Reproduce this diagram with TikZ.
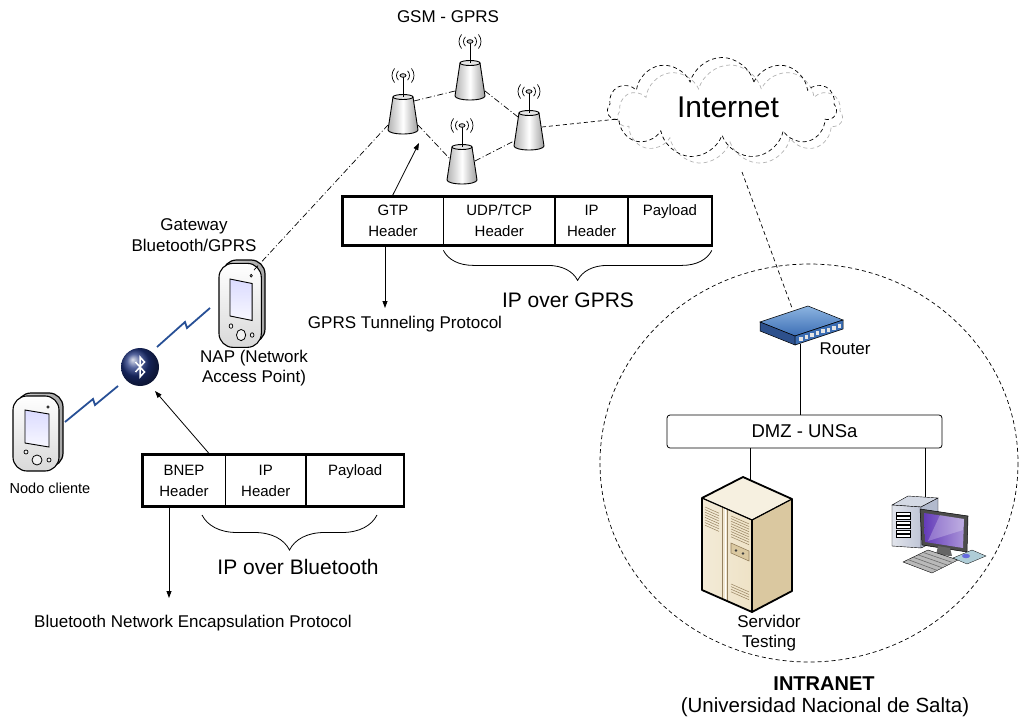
\documentclass[tikz,border=0pt]{standalone}
\usepackage{fontspec}
\setmainfont{Liberation Sans}
\usetikzlibrary{arrows.meta,decorations.pathreplacing,shapes.symbols}

\definecolor{btblue}{RGB}{30,50,125}
\definecolor{boltblue}{RGB}{40,80,150}
\definecolor{srvfront}{RGB}{238,226,198}
\definecolor{srvside}{RGB}{218,200,160}
\definecolor{srvtopc}{RGB}{246,240,224}
\definecolor{srvline}{RGB}{150,130,95}
\definecolor{pcgray}{RGB}{170,178,200}
\definecolor{pcviolet}{RGB}{100,60,185}
\definecolor{pcpad}{RGB}{175,205,215}
\definecolor{rtrlight}{RGB}{140,180,225}
\definecolor{rtrmid}{RGB}{60,110,180}
\definecolor{rtrdark}{RGB}{45,80,140}

\tikzset{
  txt/.style={font=\fontsize{17}{20.5}\selectfont, align=center, inner sep=0pt},
  bigtxt/.style={font=\fontsize{21}{25}\selectfont, inner sep=0pt},
  cell/.style={draw, line width=0.8pt, minimum height=48pt, inner sep=0pt, align=center,
    font=\fontsize{15}{21}\selectfont},
  pktframe/.style={line width=2.6pt},
  arr/.style={-{Triangle[length=7pt,width=5pt]}, line width=0.8pt},
  gsmlink/.style={dash pattern=on 6pt off 2.5pt on 1pt off 2.5pt, line width=0.7pt},
  netlink/.style={dash pattern=on 4pt off 3pt, line width=0.7pt},
  lanlink/.style={line width=0.8pt},
  bolt/.style={draw=boltblue, line width=1.8pt, line join=miter},
  pbrace/.style={decorate, decoration={brace, mirror, amplitude=#1}, line width=0.8pt},
  srvvent/.style={draw=srvline, line width=0.5pt},
  % GSM base station
  bts/.pic={
    \draw[line width=0.9pt, left color=gray!60, right color=gray!75, middle color=white]
      (-10,0) -- (-15,33) arc[start angle=180, end angle=0, x radius=15, y radius=4] -- (10,0) -- cycle;
    \draw[line width=0.9pt, fill=gray!20] (0,0) ellipse[x radius=10, y radius=2.5];
    \draw[line width=0.9pt] (0,0) -- (0,-20);
    \draw[line width=0.8pt, fill=gray!40] (0,-21.5) ellipse[x radius=3, y radius=1.8];
    \foreach \r/\a in {6.5/45,11/40} {
      \draw[line width=0.7pt] ([shift={(180-\a:\r)}]0,-21.5) arc[start angle=180-\a, end angle=180+\a, radius=\r];
      \draw[line width=0.7pt] ([shift={(-\a:\r)}]0,-21.5) arc[start angle=-\a, end angle=\a, radius=\r];
    }
    \coordinate (-nw) at (-11,4);
    \coordinate (-ne) at (11,4);
    \coordinate (-w) at (-12,12);
    \coordinate (-e) at (13,14);
    \coordinate (-sw) at (-15,28);
    \coordinate (-se) at (15,28);
  },
  % handheld
  pda/.pic={
    \draw[line width=1.2pt, left color=gray!35, right color=gray!70, rounded corners=14pt] (4,0) rectangle (50,74);
    \draw[line width=1.1pt, top color=white, bottom color=gray!30, rounded corners=14pt] (0,3) rectangle (46,78);
    \draw[line width=0.9pt, top color=blue!14, bottom color=blue!3] (12,17) -- (36,21) -- (36,54) -- (12,50) -- cycle;
    \draw[line width=0.6pt, fill=gray!60] (35,14) circle (1.3);
    \draw[line width=0.8pt, fill=gray!10] (24,67) circle (5);
    \draw[line width=0.7pt, fill=gray!10] (13,59) circle (2);
    \draw[line width=0.7pt, fill=gray!10] (36,67) circle (2);
    \coordinate (-top) at (38,9);
  }
}

\begin{document}
\begin{tikzpicture}[x=1pt, y=-1pt]
\useasboundingbox (0,0) rectangle (1019,719);

% GSM - GPRS network
\pic (bts1) at (403,97) {bts};
\pic (bts2) at (470,63) {bts};
\pic (bts3) at (529,113) {bts};
\pic (bts4) at (462,147) {bts};
\node[txt] (gsm) at (448,17) {GSM - GPRS};

\draw[gsmlink] (bts1-ne) -- (bts2-sw);
\draw[gsmlink] (bts1-se) -- (bts4-w);
\draw[gsmlink] (bts2-se) -- (bts3-nw);
\draw[gsmlink] (bts4-e) -- (bts3-sw);

% Internet
\node[cloud, cloud puffs=11, aspect=2.3, netlink, draw=gray!60, minimum width=225pt, minimum height=100pt] (inetbg) at (730,115) {};
\node[cloud, cloud puffs=11, aspect=2.3, netlink, draw, minimum width=229pt, minimum height=101pt] (inet) at (722,108) {};
\node[font=\fontsize{30}{36}\selectfont, inner sep=0pt] (inetlabel) at (728,107) {Internet};
\coordinate (inetin) at (618,119);
\coordinate (inetfoot) at (742,172);
\draw[netlink] (bts3-e) -- (inetin);

% Bluetooth side
\pic (cli) at (13,393) {pda};
\pic[xscale=0.92, yscale=1.12] (nap) at (219,260) {pda};
\node[font=\fontsize{14.5}{17}\selectfont, inner sep=0pt] (clilabel) at (50,488) {Nodo cliente};
\node[txt] (gwlabel) at (194,235) {Gateway\\Bluetooth/GPRS};
\node[txt] (naplabel) at (254,368) {NAP (Network\\Access Point)};
\draw[gsmlink] (nap-top) -- (bts1-sw);

\node[circle, minimum size=38pt, inner sep=0pt, shade, ball color=btblue] (bt) at (140,367) {};
\begin{scope}[shift={(bt.center)}]
  \draw[white, line width=1.5pt, line join=miter] (-4.5,-5) -- (4.5,5) -- (0,10) -- (0,-10) -- (4.5,-5) -- (-4.5,5);
\end{scope}

\coordinate (b1a) at (65,422);
\coordinate (b1b) at (118,386);
\coordinate (b2a) at (157,347);
\coordinate (b2b) at (210,308);
\draw[bolt] (b1a) -- (93,399) -- (95,405) -- (b1b);
\draw[bolt] (b2a) -- (185,322) -- (187,328) -- (b2b);

% GPRS packet
\node[cell, minimum width=100pt] (gtp) at (393,221) {GTP\\Header};
\node[cell, minimum width=111pt, anchor=west] (udp) at (gtp.east) {UDP/TCP\\Header};
\node[cell, minimum width=72pt, anchor=west] (gip) at (udp.east) {IP\\Header};
\node[cell, minimum width=83pt, anchor=west] (gpay) at (gip.east) {Payload\\\mbox{}};
\draw[pktframe] (gtp.north west) rectangle (gpay.south east);
\draw[pbrace=30pt] ([yshift=-5pt]udp.south west) -- ([yshift=-5pt]gpay.south east);
\node[bigtxt] (ipgprs) at (568,300) {IP over GPRS};

\coordinate (gtpend) at (385,308);
\coordinate (bts1foot) at (419,143);
\node[txt] (gtpname) at (405,324) {GPRS Tunneling Protocol};
\draw[arr] ([xshift=-8pt]gtp.south) -- (gtpend);
\draw[arr] ([xshift=-1pt]gtp.north) -- (bts1foot);

% Bluetooth packet
\node[cell, minimum width=82pt, minimum height=51pt] (bnep) at (184,480.5) {BNEP\\Header};
\node[cell, minimum width=80pt, minimum height=51pt, anchor=west] (bip) at (bnep.east) {IP\\Header};
\node[cell, minimum width=97pt, minimum height=51pt, anchor=west] (bpay) at (bip.east) {Payload\\\mbox{}};
\draw[pktframe] (bnep.north west) rectangle (bpay.south east);
\coordinate (bs) at (202,515);
\coordinate (be) at (377,515);
\draw[pbrace=35pt] (bs) -- (be);
\node[bigtxt] (ipbt) at (298,567) {IP over Bluetooth};

\coordinate (bnepend) at (169,598);
\coordinate (bttip) at (155,391);
\node[txt] (bnepname) at (193,623) {Bluetooth Network Encapsulation Protocol};
\draw[arr] ([xshift=-15pt]bnep.south) -- (bnepend);
\draw[arr] ([xshift=26pt]bnep.north) -- (bttip);

% Intranet
\draw[netlink] (809,463) ellipse[x radius=209, y radius=199];

% router
\coordinate (rtrtop) at (792,308);
\coordinate (rtrbot) at (800,344);
\draw[line width=0.5pt, top color=rtrlight, bottom color=rtrmid] (760,322) -- (808,306) -- (843,320) -- (795,336) -- cycle;
\draw[line width=0.5pt, fill=rtrdark] (760,322) -- (795,336) -- (795,345) -- (760,331) -- cycle;
\draw[line width=0.5pt, fill=rtrmid] (795,336) -- (843,320) -- (843,329) -- (795,345) -- cycle;
\foreach \k in {0,...,7}
  \fill[gray!20] ({799+5.5*\k},{338-(4+5.5*\k)/3}) rectangle ++(3.5,4);
\node[txt] (rtrlabel) at (845,349) {Router};
\draw[netlink] (inetfoot) -- (rtrtop);

\node[draw, line width=0.8pt, rounded corners=3pt, minimum width=275pt, minimum height=33pt,
  font=\fontsize{18.5}{22}\selectfont] (dmz) at (804.5,431.5) {DMZ - UNSa};
\draw[lanlink] (rtrbot) -- (rtrbot |- dmz.north);

% server
\coordinate (srv) at (750,481);
\draw[line width=0.5pt, fill=srvtopc] (743,477) -- (792,499) -- (752,520) -- (702,498) -- cycle;
\draw[line width=0.5pt, left color=srvfront!70!white, right color=srvfront] (702,498) -- (752,520) -- (752,612) -- (702,590) -- cycle;
\draw[line width=0.5pt, fill=srvside] (752,520) -- (792,499) -- (792,591) -- (752,612) -- cycle;
\draw[srvline, line width=0.8pt] (722,507) -- (722,599);
\draw[white, line width=0.8pt] (725,508) -- (725,600);
\draw[srvline, line width=0.6pt] (727,509) -- (727,601);
\foreach \k in {0,...,7}
  \draw[srvvent] (705,{507+2.6*\k}) -- ++(14,6.2);
\foreach \k in {0,...,8}
  \draw[srvvent] (731,{516+2.6*\k}) -- ++(18,7.9);
\foreach \k in {0,...,3}
  \draw[srvvent] (731,{584+2.6*\k}) -- ++(18,7.9);
\draw[line width=0.6pt, draw=srvline, fill=srvside] (731,543) -- (749,551) -- (749,561) -- (731,553) -- cycle;
\fill[black!75] (736,550.5) circle (1.4);
\fill[black!75] (743,553.5) circle (1.4);
\draw[line width=1.8pt, line join=round] (743,477) -- (792,499) -- (792,591) -- (752,612) -- (702,590) -- (702,498) -- cycle;
\draw[line width=1.2pt] (702,498) -- (752,520) -- (792,499);
\draw[line width=1.2pt] (752,520) -- (752,612);
\node[txt] (srvlabel) at (769,633) {Servidor\\Testing};
\draw[lanlink] (dmz.south -| srv) -- (srv);

% workstation
\coordinate (pc) at (925,497);
\draw[line width=0.4pt, fill=pcgray!50] (892,505) -- (908,496) -- (938,498) -- (921,507) -- cycle;
\draw[line width=0.4pt, left color=pcgray!35, right color=pcgray!75] (892,505) -- (921,507) -- (921,548) -- (892,546) -- cycle;
\draw[line width=0.4pt, fill=pcgray!90] (921,507) -- (938,498) -- (938,540) -- (921,548) -- cycle;
\foreach \k in {0,...,5}
  \draw[line width=0.3pt, fill=white] (896,{512+4.5*\k}) rectangle ++(14,3);
\draw[line width=0.5pt, fill=black!70] (920,509) -- (968,516) -- (967,552) -- (922,545) -- cycle;
\shade[left color=pcviolet, right color=pcviolet!55!white] (924,513) -- (964,519) -- (963,548) -- (925,542) -- cycle;
\fill[white, opacity=0.25] (940,515) -- (964,519) -- (963,530) -- (928,541) -- cycle;
\fill[black!60] (938,546) -- (950,548) -- (952,556) -- (936,555) -- cycle;
\draw[line width=0.4pt, fill=gray!55] (903,562) -- (928,550) -- (958,560) -- (932,573) -- cycle;
\foreach \t in {0.2,0.4,0.6,0.8}
  \draw[gray!85!black, line width=0.6pt] ({903+25*\t},{562-12*\t}) -- ({932+26*\t},{573-13*\t});
\draw[line width=0.3pt, fill=pcpad] (953,558) -- (972,550) -- (986,556) -- (967,564) -- cycle;
\fill[pcgray!60!blue] (966,556) ellipse[x radius=4, y radius=2.2];
\draw[lanlink] (dmz.south -| pc) -- (pc);

\node[font=\fontsize{20}{24}\selectfont\bfseries, inner sep=0pt] (intranet) at (824,684) {INTRANET};
\node[font=\fontsize{20.5}{24}\selectfont, inner sep=0pt] (unsa) at (825,707) {(Universidad Nacional de Salta)};
\end{tikzpicture}
\end{document}
